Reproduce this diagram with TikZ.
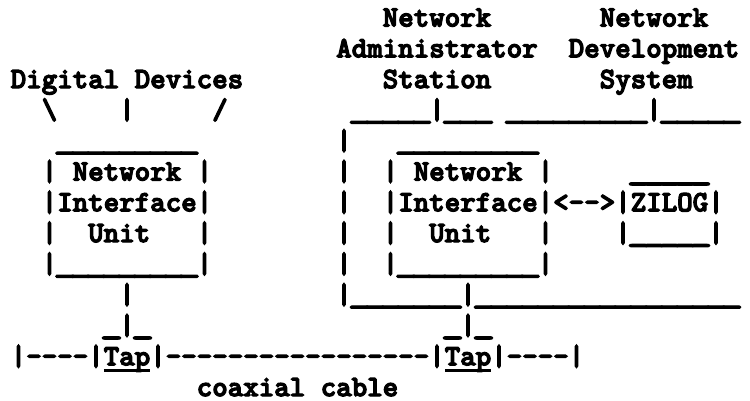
\documentclass[tikz,border=0pt]{standalone}
\usepackage{fontspec}
\usepackage{graphicx}
\newfontfamily\twfont{lmmonolt10-bold.otf}[FakeBold=4]
\tikzset{
  cell/.style={anchor=base west, inner sep=0pt, outer sep=0pt,
    font=\twfont\fontsize{29.52pt}{32pt}\selectfont, text=black},
  tapline/.style={line width=3pt, black}
}
% one underscore filling its whole character cell
\newcommand\usc{\makebox[15.5pt]{\scalebox{1.45}[1]{\_}}}
\newcommand\usn[1]{\foreach \k in {1,...,#1}{\usc}}
% place text at column #2, row #3 (monospaced grid)
\newcommand\putcell[4]{\node[cell] (#1) at ({(10.75+15.5*#2)*1pt},{-(26.5+30.8*#3)*1pt}) {#4};}
\begin{document}
\begin{tikzpicture}
\fill[white] (0,0) rectangle (750pt,-401pt);
\useasboundingbox (0,0) rectangle (750pt,-401pt);
% row 0
\putcell{netA}{24}{0}{Network}
\putcell{netD}{38}{0}{Network}
% row 1
\putcell{admin}{21}{1}{Administrator}
\putcell{devel}{36}{1}{Development}
% row 2
\putcell{digdev}{0}{2}{Digital Devices}
\putcell{station}{24}{2}{Station}
\putcell{system}{38}{2}{System}
% row 3
\putcell{bsl}{2}{3}{\textbackslash}
\putcell{vbar}{7}{3}{|}
\putcell{sl}{13}{3}{/}
\putcell{topA}{22}{3}{\usn{5}|\usn{3}}
\putcell{topB}{32}{3}{\usn{9}|\usn{5}}
% row 4
\putcell{niuLtop}{3}{4}{\usn{9}}
\putcell{bigL4}{21}{4}{|}
\putcell{niuRtop}{25}{4}{\usn{9}}
% row 5
\putcell{niuL5}{2}{5}{| Network |}
\putcell{bigL5}{21}{5}{|}
\putcell{niuR5}{24}{5}{| Network |}
\putcell{zilogtop}{40}{5}{\usn{5}}
% row 6
\putcell{niuL6}{2}{6}{|Interface|}
\putcell{bigL6}{21}{6}{|}
\putcell{niuR6}{24}{6}{|Interface|<-->|ZILOG|}
% row 7
\putcell{niuL7a}{2}{7}{|}
\putcell{unitL}{5}{7}{Unit}
\putcell{niuL7b}{12}{7}{|}
\putcell{bigL7}{21}{7}{|}
\putcell{niuR7a}{24}{7}{|}
\putcell{unitR}{27}{7}{Unit}
\putcell{niuR7b}{34}{7}{|}
\putcell{zilogbot}{39}{7}{|\usn{5}|}
% row 8
\putcell{niuLbot}{2}{8}{|\usn{9}|}
\putcell{bigL8}{21}{8}{|}
\putcell{niuRbot}{24}{8}{|\usn{9}|}
% row 9
\putcell{dropL}{7}{9}{|}
\putcell{bigbot}{21}{9}{|\usn{7}|\usn{17}}
% row 10
\putcell{tapLtop}{6}{10}{\usc|\usc}
\putcell{tapRtop}{28}{10}{\usc|\usc}
% row 11
\putcell{cabA}{0}{11}{|----|}
\putcell{tapL}{6}{11}{Tap}
\putcell{cabB}{9}{11}{|-----------------|}
\putcell{tapR}{28}{11}{Tap}
\putcell{cabC}{31}{11}{|----|}
\draw[tapline] ([yshift=-5pt]tapL.base west) -- ([yshift=-5pt]tapL.base east);
\draw[tapline] ([yshift=-5pt]tapR.base west) -- ([yshift=-5pt]tapR.base east);
% row 12
\putcell{coax}{12}{12}{coaxial cable}
\end{tikzpicture}
\end{document}
